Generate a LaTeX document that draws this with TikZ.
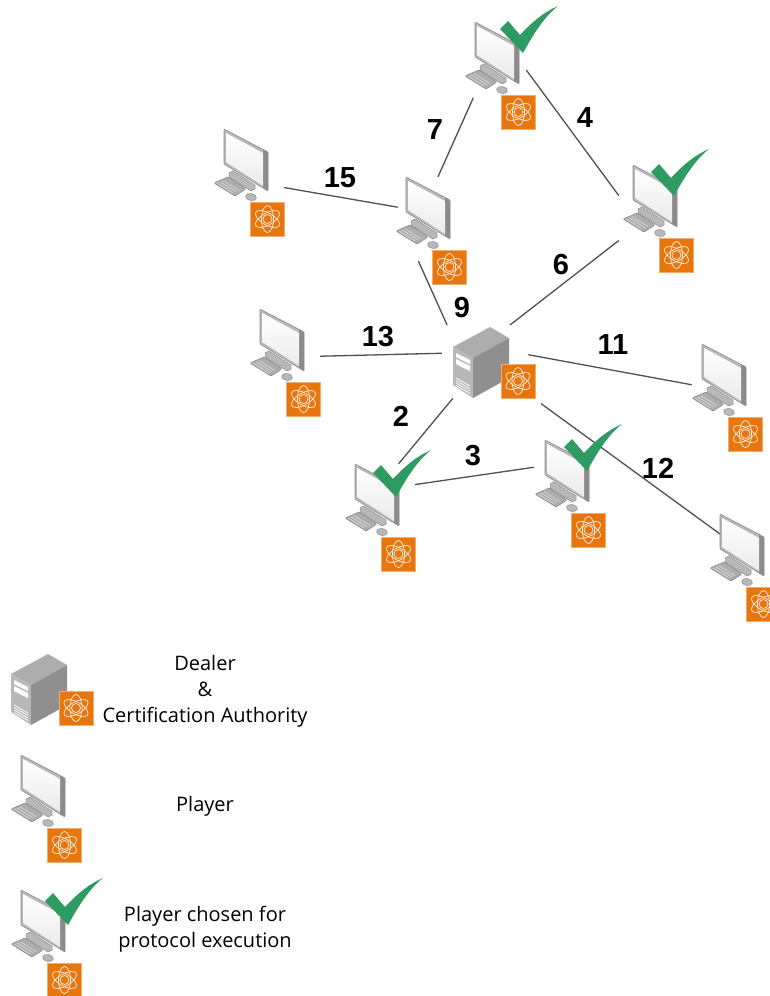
\documentclass[tikz,border=0pt]{standalone}
\usepackage{fontspec}
\setmainfont{Open Sans}
\newfontfamily\labelfont{Liberation Sans}
\definecolor{atomorange}{HTML}{E8760E}
\definecolor{tickgreen}{HTML}{2E9B62}
\definecolor{framegray}{HTML}{B8B8B8}
\definecolor{edgegray}{HTML}{8C8C8C}
\definecolor{linkgray}{HTML}{505050}
\begin{document}
\begin{tikzpicture}[x=1pt,y=-1pt]
    \tikzset{hostbox/.style = {shape=rectangle,minimum width=74pt,minimum height=84pt,inner sep=0pt}}
    \tikzset{serverbox/.style = {shape=rectangle,minimum width=82pt,minimum height=71pt,inner sep=0pt}}
    \tikzset{link/.style = {draw=linkgray,line width=1.3pt}}
    \tikzset{weight/.style = {font=\labelfont\bfseries\fontsize{29}{30}\selectfont,inner sep=0pt}}
    \tikzset{legend/.style = {font=\fontsize{20}{26}\selectfont,align=center,inner sep=0pt}}
    \tikzset{atom/.pic = {
        \fill[atomorange!60!white] (-17.5,-17.5) rectangle (17.5,17.5);
        \fill[atomorange] (-16.5,-16.5) rectangle (16.5,16.5);
        \foreach \a in {30,90,150} {
            \draw[white!90!atomorange,line width=.7pt] (0,0) ellipse [x radius=13.5,y radius=6,rotate=\a];
        }
        \draw[white!90!atomorange,line width=.7pt] (0,0) circle (4.5);
    }}
    \tikzset{playerpc/.pic = {
        \begin{scope}[shift={(-23,-42)}]
        \fill[framegray,draw=edgegray,line width=.5pt] (5,44) -- (9,42) -- (31,56) -- (31,60) -- (27,62) -- (5,48) -- cycle;
        \fill[framegray,draw=edgegray,line width=.6pt,rounded corners=1pt] (0,0) -- (44,23) -- (44,62) -- (0,35) -- cycle;
        \fill[edgegray] (39,21) -- (44,23) -- (44,62) -- (39,59) -- cycle;
        \shade[top color=white,bottom color=white!92!black] (2,4) -- (39,24) -- (39,57) -- (2,33) -- cycle;
        \fill[white!68!black,draw=edgegray,line width=.6pt,rounded corners=1pt] (-10,54) -- (4,48) -- (22,60) -- (11,67) -- cycle;
        \foreach \k in {0,1,2} {
            \draw[white!85!black,line width=.7pt] (-7+3*\k,54-1.2*\k) -- (9+3*\k,64-1.2*\k);
        }
        \fill[framegray,draw=edgegray,line width=.5pt,rotate around={-10:(27,68)}] (27,68) ellipse (5.5 and 3.5);
        \pic at (43.5,90) {atom};
        \end{scope}
    }}
    \tikzset{dealerpc/.pic = {
        \begin{scope}[shift={(-52,-689.5)}]
        \fill[white!68!black] (11,674) -- (48,654) -- (67,665) -- (31,685) -- cycle;
        \fill[white!72!black] (11,674) -- (31,685) -- (31,725) -- (11,712) -- cycle;
        \fill[white!56!black] (31,685) -- (67,665) -- (67,705) -- (31,725) -- cycle;
        \fill[white] (14,680) -- (28,687) -- (28,691) -- (14,684) -- cycle;
        \fill[white] (14,686) -- (28,693) -- (28,698) -- (14,691) -- cycle;
        \foreach \k in {0,1,2,3} {
            \draw[white,line width=.7pt] (14,705+2.5*\k) -- (28,713+2.5*\k);
        }
        \pic at (76,708) {atom};
        \end{scope}
    }}
    \tikzset{tick/.pic = {
        \fill[tickgreen] (1,-31) -- (9,-39) -- (21,-25) .. controls (33,-38) and (45,-48) .. (59,-54) .. controls (46,-44) and (35,-27) .. (24,-7) -- cycle;
    }}
    \clip (0,0) rectangle (770,996);
    % hosts
    \node[hostbox] (top) at (498,64) {};
    \node[hostbox] (right) at (656,207) {};
    \node[hostbox] (far) at (247,171) {};
    \node[hostbox] (mid) at (429,219) {};
    \node[hostbox] (west) at (283,351) {};
    \node[hostbox] (east) at (725,386) {};
    \node[hostbox] (south) at (378,506) {};
    \node[hostbox] (centre) at (568,482) {};
    \node[hostbox] (corner) at (743,556) {};
    \node[serverbox] (dealer) at (494,362.5) {};
    % links
    \draw[link,shorten <=-9pt] (top.236) to (mid.78);
    \draw[link,shorten <=-15pt] (top.-26) to (right.163);
    \draw[link,shorten >=-6pt] (far.-24) to (mid.161);
    \draw[link,shorten >=14pt] (mid.256) to (dealer.149);
    \draw[link,shorten >=3pt] (right.222) to (dealer.69);
    \draw[link,shorten >=11pt] (west.-8) to (dealer.167);
    \draw[link,shorten <=-7pt,shorten >=-4pt] (dealer.9) to (east.177);
    \draw[link] (dealer.221) to (south.64);
    \draw[link,shorten >=-3pt] (south.30) to (centre.159);
    \draw[link,shorten <=9pt,shorten >=-20pt] (dealer.-42) to (corner.139);
    % pictures on top of the links
    \foreach \h in {top,right,far,mid,west,east,south,centre,corner} {
        \pic at (\h) {playerpc};
    }
    \pic at (dealer) {dealerpc};
    \pic at ([shift={(1,-4)}]top.center) {tick};
    \pic at ([shift={(-6,-4)}]right.center) {tick};
    \pic at ([shift={(-6,-2)}]south.center) {tick};
    \pic at ([shift={(-5,-4)}]centre.center) {tick};
    % weights
    \node[weight] (w7) at (435,130) {7};
    \node[weight] (w4) at (585,118) {4};
    \node[weight] (w15) at (340,178) {15};
    \node[weight] (w6) at (561,265) {6};
    \node[weight] (w9) at (462,308) {9};
    \node[weight] (w13) at (378,337) {13};
    \node[weight] (w11) at (613,345) {11};
    \node[weight] (w2) at (401,416) {2};
    \node[weight] (w3) at (473,456) {3};
    \node[weight] (w12) at (658,468) {12};
    % legend
    \node[serverbox] (keydealer) at (52,689.5) {};
    \node[hostbox] (keyplayer) at (44,797) {};
    \node[hostbox] (keychosen) at (44,932) {};
    \pic at (keydealer) {dealerpc};
    \pic at (keyplayer) {playerpc};
    \pic at (keychosen) {playerpc};
    \pic at (keychosen) {tick};
    \node[legend] (textdealer) at (205,691) {Dealer\\\&\\Certification Authority};
    \node[legend] (textplayer) at (205,806) {Player};
    \node[legend] (textchosen) at (205,929) {Player chosen for\\protocol execution};
\end{tikzpicture}
\end{document}
